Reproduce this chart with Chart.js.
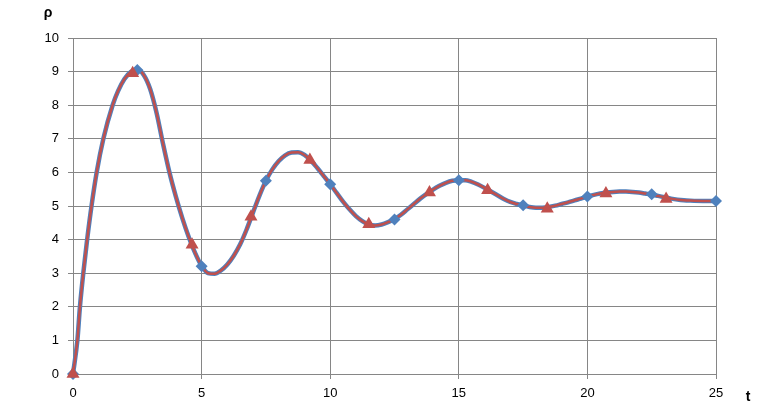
<!DOCTYPE html>
<html>
<head>
<meta charset="utf-8">
<script src="https://cdn.jsdelivr.net/npm/chart.js@4/dist/chart.umd.min.js"></script>
<style>
  html, body { margin: 0; padding: 0; background: #ffffff; }
  #wrap { width: 784px; height: 420px; position: relative; }
</style>
</head>
<body>
<div id="wrap"><canvas id="c" width="784" height="420"></canvas></div>
<script>
// Blue series (diamonds)
const tBlue = [0, 2.5, 5, 7.5, 10, 12.5, 15, 17.5, 20, 22.5, 25];
const pBlue = [0, 9.05, 3.21, 5.75, 5.65, 4.60, 5.77, 5.02, 5.28, 5.35, 5.15];
// Red series (triangles)
const tRed = [0, 2.32, 4.63, 6.92, 9.21, 11.5, 13.86, 16.12, 18.44, 20.72, 23.06];
const pRed = [0, 8.95, 3.85, 4.68, 6.37, 4.46, 5.40, 5.47, 4.92, 5.37, 5.21];
// Smooth curve
const curveT = [0, 0.17, 0.27, 0.40, 0.55, 0.72, 0.92, 1.18, 1.54, 1.75, 2.0, 2.25, 2.5, 2.75, 3.0, 3.25, 3.5, 3.75, 4.0, 4.25, 4.5, 4.75, 5.0, 5.25, 5.5, 5.75, 6.0, 6.25, 6.5, 6.75, 7.0, 7.25, 7.5, 7.75, 8.0, 8.25, 8.5, 8.75, 9.0, 9.25, 9.5, 9.75, 10.0, 10.25, 10.5, 10.75, 11.0, 11.25, 11.5, 11.75, 12.0, 12.25, 12.5, 12.75, 13.0, 13.25, 13.5, 13.75, 14.0, 14.25, 14.5, 14.75, 15.0, 15.25, 15.5, 15.75, 16.0, 16.25, 16.5, 16.75, 17.0, 17.25, 17.5, 17.75, 18.0, 18.25, 18.5, 18.75, 19.0, 19.25, 19.5, 19.75, 20.0, 20.25, 20.5, 20.75, 21.0, 21.25, 21.5, 21.75, 22.0, 22.25, 22.5, 22.75, 23.0, 23.25, 23.5, 23.75, 24.0, 24.5, 25.0];
const curveP = [0, 1, 2, 3, 4, 5, 6, 7, 8, 8.42, 8.78, 8.99, 9.06, 8.9, 8.48, 7.77, 6.85, 6.0, 5.28, 4.64, 4.08, 3.6, 3.22, 3.0, 2.98, 3.08, 3.26, 3.52, 3.86, 4.30, 4.81, 5.31, 5.75, 6.09, 6.34, 6.51, 6.59, 6.60, 6.52, 6.35, 6.13, 5.89, 5.65, 5.39, 5.13, 4.90, 4.70, 4.55, 4.45, 4.42, 4.45, 4.52, 4.61, 4.74, 4.90, 5.06, 5.22, 5.36, 5.49, 5.60, 5.69, 5.75, 5.77, 5.77, 5.72, 5.64, 5.54, 5.43, 5.32, 5.21, 5.12, 5.06, 5.01, 4.97, 4.95, 4.95, 4.97, 5.01, 5.06, 5.11, 5.17, 5.22, 5.28, 5.33, 5.37, 5.40, 5.42, 5.43, 5.43, 5.42, 5.40, 5.37, 5.34, 5.30, 5.26, 5.22, 5.19, 5.17, 5.16, 5.15, 5.15];
// Axis ticks
const xTicks = [0, 5, 10, 15, 20, 25];
const yTicks = [0, 1, 2, 3, 4, 5, 6, 7, 8, 9, 10];
const yLabel = 'ρ';
const xLabel = 't';

const BLUE = '#4F81BD';
const RED = '#C0504D';
const GRID = '#868686';

const pts = (xs, ys) => xs.map((x, i) => ({ x: x, y: ys[i] }));

const axisTitles = {
  id: 'axisTitles',
  afterDraw(chart) {
    const ctx = chart.ctx;
    const a = chart.chartArea;
    ctx.save();
    ctx.fillStyle = '#000';
    ctx.font = 'bold 14px "Liberation Sans", Arial, sans-serif';
    ctx.textAlign = 'center';
    ctx.textBaseline = 'middle';
    ctx.fillText(yLabel, a.left - 25, a.top - 25);
    ctx.fillText(xLabel, a.right + 32, a.bottom + 23);
    ctx.restore();
  }
};

new Chart(document.getElementById('c'), {
  type: 'scatter',
  data: {
    datasets: [
      { label: 'curveBlue', data: pts(curveT, curveP), showLine: true, borderColor: BLUE, borderWidth: 4.5,
        pointRadius: 0, cubicInterpolationMode: 'monotone', fill: false, order: 4 },
      { label: 'curveRed', data: pts(curveT, curveP), showLine: true, borderColor: RED, borderWidth: 2.5,
        pointRadius: 0, cubicInterpolationMode: 'monotone', fill: false, order: 3 },
      { label: 'blue', data: pts(tBlue, pBlue), showLine: false, pointStyle: 'rectRot', pointRadius: 6,
        backgroundColor: BLUE, borderColor: BLUE, borderWidth: 0, order: 2 },
      { label: 'red', data: pts(tRed, pRed), showLine: false, pointStyle: 'triangle', pointRadius: 7.5,
        backgroundColor: RED, borderColor: RED, borderWidth: 0, order: 1 }
    ]
  },
  options: {
    responsive: false,
    animation: false,
    clip: false,
    layout: { padding: { left: 0, top: 38, right: 68, bottom: 0 } },
    plugins: { legend: { display: false }, tooltip: { enabled: false } },
    scales: {
      x: {
        type: 'linear', min: 0, max: 25,
        afterBuildTicks: (s) => { s.ticks = xTicks.map(v => ({ value: v })); },
        afterFit: (s) => { s.height = 46; },
        grid: { color: GRID, lineWidth: 1, tickLength: 5, drawTicks: true },
        border: { color: GRID, width: 1 },
        ticks: { color: '#000', padding: 7, font: { family: '"Liberation Sans", Arial, sans-serif', size: 13 } }
      },
      y: {
        type: 'linear', min: 0, max: 10,
        afterBuildTicks: (s) => { s.ticks = yTicks.map(v => ({ value: v })); },
        afterFit: (s) => { s.width = 73; },
        grid: { color: GRID, lineWidth: 1, tickLength: 5, drawTicks: true },
        border: { color: GRID, width: 1 },
        ticks: { color: '#000', padding: 9, font: { family: '"Liberation Sans", Arial, sans-serif', size: 13 } }
      }
    }
  },
  plugins: [axisTitles]
});
</script>
</body>
</html>
